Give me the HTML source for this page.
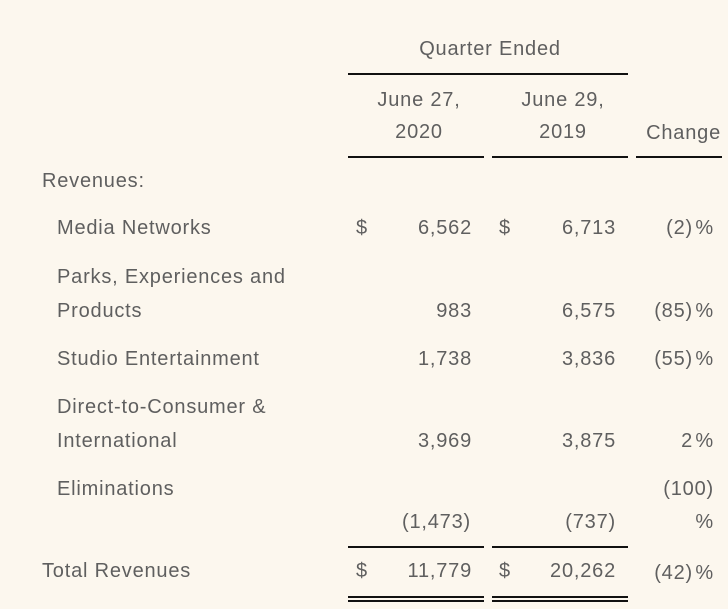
<!DOCTYPE html>
<html><head><meta charset="utf-8"><style>
body{margin:0;width:728px;height:609px;background:#fcf7ee;position:relative;overflow:hidden;font-family:"Liberation Sans",sans-serif;color:#5f5f5f;font-size:20px;letter-spacing:0.8px}
.t{position:absolute;line-height:24px;white-space:nowrap}
.r{text-align:right}
.c{text-align:center}
.l{position:absolute;height:2px;background:#111}
</style></head><body>
<div class="t c" style="left:390px;width:200px;top:37px">Quarter Ended</div>
<div class="l" style="left:348px;width:280px;top:73px"></div>
<div class="t c" style="left:349px;width:140px;top:88px">June 27,</div>
<div class="t c" style="left:349px;width:140px;top:120px">2020</div>
<div class="t c" style="left:493px;width:140px;top:88px">June 29,</div>
<div class="t c" style="left:493px;width:140px;top:120px">2019</div>
<div class="t r" style="right:7px;top:121px">Change</div>
<div class="l" style="left:348px;width:136px;top:156px"></div>
<div class="l" style="left:492px;width:136px;top:156px"></div>
<div class="l" style="left:636px;width:86px;top:156px"></div>

<div class="t" style="left:42px;top:169px">Revenues:</div>

<div class="t" style="left:57px;top:216px">Media Networks</div>
<div class="t" style="left:356px;top:216px">$</div>
<div class="t r" style="right:256px;top:216px">6,562</div>
<div class="t" style="left:499px;top:216px">$</div>
<div class="t r" style="right:112px;top:216px">6,713</div>
<div class="t r" style="right:35px;top:216px">(2)</div>
<div class="t r" style="right:14px;top:216px">%</div>

<div class="t" style="left:57px;top:265px">Parks, Experiences and</div>
<div class="t" style="left:57px;top:299px">Products</div>
<div class="t r" style="right:256px;top:299px">983</div>
<div class="t r" style="right:112px;top:299px">6,575</div>
<div class="t r" style="right:35px;top:299px">(85)</div>
<div class="t r" style="right:14px;top:299px">%</div>

<div class="t" style="left:57px;top:347px">Studio Entertainment</div>
<div class="t r" style="right:256px;top:347px">1,738</div>
<div class="t r" style="right:112px;top:347px">3,836</div>
<div class="t r" style="right:35px;top:347px">(55)</div>
<div class="t r" style="right:14px;top:347px">%</div>

<div class="t" style="left:57px;top:395px">Direct-to-Consumer &amp;</div>
<div class="t" style="left:57px;top:429px">International</div>
<div class="t r" style="right:256px;top:429px">3,969</div>
<div class="t r" style="right:112px;top:429px">3,875</div>
<div class="t r" style="right:35px;top:429px">2</div>
<div class="t r" style="right:14px;top:429px">%</div>

<div class="t" style="left:57px;top:477px">Eliminations</div>
<div class="t r" style="right:14px;top:477px">(100)</div>
<div class="t r" style="right:257px;top:510px">(1,473)</div>
<div class="t r" style="right:112px;top:510px">(737)</div>
<div class="t r" style="right:14px;top:510px">%</div>
<div class="l" style="left:348px;width:136px;top:546px"></div>
<div class="l" style="left:492px;width:136px;top:546px"></div>

<div class="t" style="left:42px;top:559px">Total Revenues</div>
<div class="t" style="left:356px;top:559px">$</div>
<div class="t r" style="right:256px;top:559px">11,779</div>
<div class="t" style="left:499px;top:559px">$</div>
<div class="t r" style="right:112px;top:559px">20,262</div>
<div class="t r" style="right:35px;top:561px">(42)</div>
<div class="t r" style="right:14px;top:561px">%</div>
<div class="l" style="left:348px;width:136px;top:596px"></div>
<div class="l" style="left:348px;width:136px;top:600px"></div>
<div class="l" style="left:492px;width:136px;top:596px"></div>
<div class="l" style="left:492px;width:136px;top:600px"></div>
</body></html>
